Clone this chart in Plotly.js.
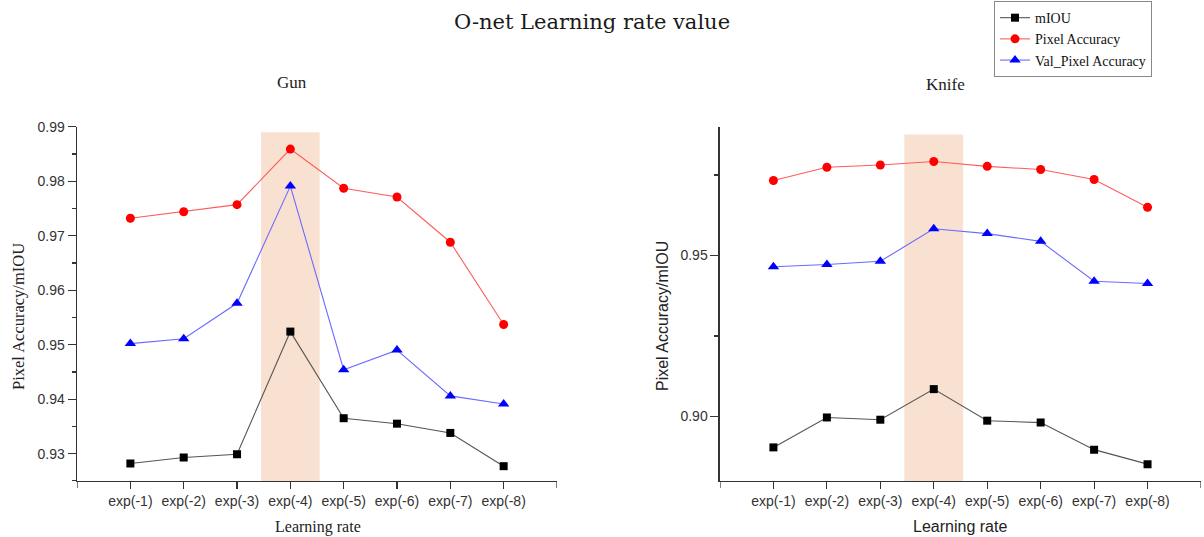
<!DOCTYPE html>
<html>
<head>
<meta charset="utf-8">
<script src="https://cdn.plot.ly/plotly-3.0.1.min.js"></script>
<style>html,body{margin:0;padding:0;background:#fff;}#chart{width:1204px;height:537px;}</style>
</head>
<body>
<div id="chart"></div>
<script>
// ---- data ----
const categories = ['exp(-1)','exp(-2)','exp(-3)','exp(-4)','exp(-5)','exp(-6)','exp(-7)','exp(-8)'];
const highlightCategory = 'exp(-4)';

const gunMIOU      = [0.9282, 0.9293, 0.9299, 0.9524, 0.9365, 0.9355, 0.9338, 0.9277];
const gunPixelAcc  = [0.9732, 0.9744, 0.9757, 0.9859, 0.9787, 0.9771, 0.9688, 0.9537];
const gunValPixAcc = [0.9502, 0.9511, 0.9576, 0.9791, 0.9454, 0.9490, 0.9406, 0.9391];

const knifeMIOU      = [0.8904, 0.8997, 0.8990, 0.9085, 0.8987, 0.8981, 0.8897, 0.8852];
const knifePixelAcc  = [0.9733, 0.9774, 0.9781, 0.9792, 0.9777, 0.9767, 0.9736, 0.9650];
const knifeValPixAcc = [0.9465, 0.9472, 0.9482, 0.9583, 0.9568, 0.9544, 0.9420, 0.9413];

const seriesNames = ['mIOU', 'Pixel Accuracy', 'Val_Pixel Accuracy'];

// ---- styles ----
const SERIF = 'Liberation Serif, Times New Roman, serif';
const SANS = 'Liberation Sans, Arial, sans-serif';
const styles = [
  {line: '#555555', marker: '#000000', symbol: 'square', size: 8},
  {line: '#ff5c5c', marker: '#ff0000', symbol: 'circle', size: 9},
  {line: '#6a6aff', marker: '#0000ff', symbol: 'triangle-up', size: 10}
];

function mk(ys, i, xa, ya, show) {
  const s = styles[i];
  return {
    x: categories, y: ys, type: 'scatter', mode: 'lines+markers',
    name: seriesNames[i], xaxis: xa, yaxis: ya, showlegend: show,
    line: {color: s.line, width: 1.1},
    marker: {color: s.marker, symbol: s.symbol, size: s.size, line: {width: 0}}
  };
}

const traces = [
  mk(gunMIOU, 0, 'x', 'y', true),
  mk(gunPixelAcc, 1, 'x', 'y', true),
  mk(gunValPixAcc, 2, 'x', 'y', true),
  mk(knifeMIOU, 0, 'x2', 'y2', false),
  mk(knifePixelAcc, 1, 'x2', 'y2', false),
  mk(knifeValPixAcc, 2, 'x2', 'y2', false)
];

const hi = categories.indexOf(highlightCategory);
const shade = '#f9e1d1';

function xax(domain) {
  return {
    domain: domain, type: 'category', categoryarray: categories, range: [-1, 8],
    showline: true, linecolor: '#333', linewidth: 1.5, showgrid: false, zeroline: false,
    ticks: 'outside', ticklen: 7, tickwidth: 1.2, tickcolor: '#333',
    tickfont: {family: SANS, size: 14, color: '#333'}, fixedrange: true
  };
}
function yax(range, dtick, tick0, minorDtick, anchor) {
  return {
    domain: [0.1045, 0.764], range: range, anchor: anchor,
    dtick: dtick, tick0: tick0, tickformat: '.2f',
    showline: true, linecolor: '#333', linewidth: 1.5, showgrid: false, zeroline: false,
    ticks: 'outside', ticklen: 8, tickwidth: 1.2, tickcolor: '#333',
    minor: {dtick: minorDtick, ticks: 'outside', ticklen: 4, tickwidth: 1.2, tickcolor: '#333', showgrid: false},
    tickfont: {family: SANS, size: 14, color: '#333'}, fixedrange: true
  };
}

function endTick(xref, yref, xv) {
  return {type: 'line', xref: xref, yref: yref + ' domain', ysizemode: 'pixel', yanchor: 0,
          x0: xv, x1: xv, y0: 0, y1: -7, line: {color: '#333', width: 1.2}};
}

const layout = {
  width: 1204, height: 537,
  margin: {l: 0, r: 0, t: 0, b: 0},
  paper_bgcolor: '#fff', plot_bgcolor: 'rgba(0,0,0,0)',
  title: {text: 'O-net Learning rate value', x: 0.4917, xanchor: 'center', y: 0.96, yanchor: 'middle',
          font: {family: 'DejaVu Serif, serif', size: 21, color: '#1a1a1a'}},
  xaxis: Object.assign(xax([0.064, 0.4626]), {anchor: 'y'}),
  yaxis: yax([0.925, 0.99], 0.01, 0.93, 0.005, 'x'),
  xaxis2: Object.assign(xax([0.598, 0.9975]), {anchor: 'y2'}),
  yaxis2: yax([0.88, 0.99], 0.05, 0.90, 0.025, 'x2'),
  showlegend: true,
  legend: {x: 0.8256, y: 0.998, xanchor: 'left', yanchor: 'top', bgcolor: '#fff',
           bordercolor: '#888', borderwidth: 1, tracegroupgap: 0, itemwidth: 30,
           font: {family: SERIF, size: 14, color: '#111'}},
  shapes: [
    {type: 'rect', xref: 'x', yref: 'y', x0: hi - 0.55, x1: hi + 0.55, y0: 0.925, y1: 0.989,
     fillcolor: shade, line: {width: 0}, layer: 'below'},
    {type: 'rect', xref: 'x2', yref: 'y2', x0: hi - 0.55, x1: hi + 0.55, y0: 0.88, y1: 0.9876,
     fillcolor: shade, line: {width: 0}, layer: 'below'},
    endTick('x', 'y', -1), endTick('x', 'y', 8),
    endTick('x2', 'y2', -1), endTick('x2', 'y2', 8)
  ],
  annotations: [
    {text: 'Gun', xref: 'paper', yref: 'paper', x: 0.2425, y: 0.847, showarrow: false,
     xanchor: 'center', yanchor: 'middle', font: {family: SERIF, size: 17, color: '#222'}},
    {text: 'Knife', xref: 'paper', yref: 'paper', x: 0.785, y: 0.842, showarrow: false,
     xanchor: 'center', yanchor: 'middle', font: {family: SERIF, size: 17, color: '#222'}},
    {text: 'Pixel Accuracy/mIOU', xref: 'paper', yref: 'paper', x: 19/1204, y: 0.4097, textangle: -90,
     showarrow: false, xanchor: 'center', yanchor: 'middle', font: {family: SERIF, size: 16.5, color: '#222'}},
    {text: 'Pixel Accuracy/mIOU', xref: 'paper', yref: 'paper', x: 662/1204, y: 0.4115, textangle: -90,
     showarrow: false, xanchor: 'center', yanchor: 'middle', font: {family: SANS, size: 16, color: '#222'}},
    {text: 'Learning rate', xref: 'paper', yref: 'paper', x: 318/1204, y: 0.0192,
     showarrow: false, xanchor: 'center', yanchor: 'middle', font: {family: SERIF, size: 16, color: '#222'}},
    {text: 'Learning rate', xref: 'paper', yref: 'paper', x: 960/1204, y: 0.0192,
     showarrow: false, xanchor: 'center', yanchor: 'middle', font: {family: SANS, size: 16, color: '#222'}}
  ]
};

Plotly.newPlot('chart', traces, layout, {displayModeBar: false, staticPlot: true});
</script>
</body>
</html>
